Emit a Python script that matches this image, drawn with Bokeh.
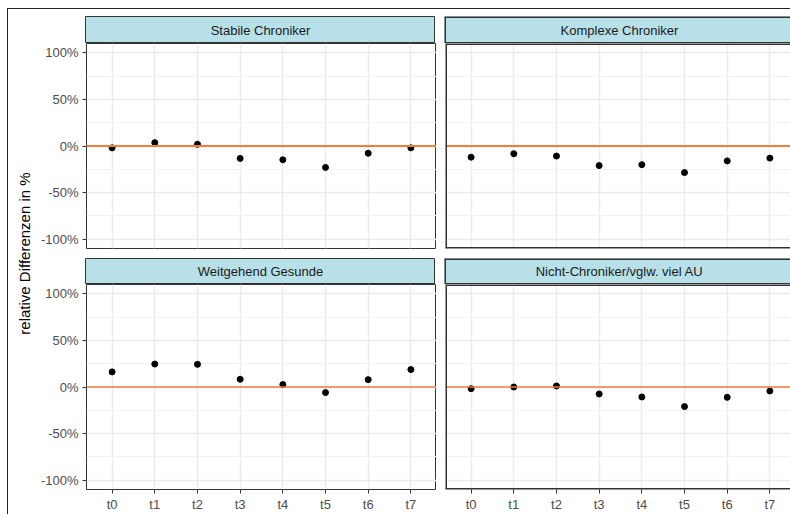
from bokeh.plotting import figure
from bokeh.layouts import row, column
from bokeh.models import Range1d, FixedTicker, Span, Label
from bokeh.embed import file_html
from bokeh.resources import INLINE

# ---- data ----
cats = ["t0", "t1", "t2", "t3", "t4", "t5", "t6", "t7"]
panel_titles = ["Stabile Chroniker", "Komplexe Chroniker",
                "Weitgehend Gesunde", "Nicht-Chroniker/vglw. viel AU"]
stabile = [-2.0, 3.6, 1.8, -13.3, -14.8, -23.0, -7.8, -2.0]
komplex = [-12.0, -8.3, -10.8, -21.0, -20.0, -28.5, -16.0, -13.0]
gesund = [16.2, 24.6, 24.3, 8.3, 2.6, -6.0, 7.9, 18.7]
nicht = [-1.8, 0.0, 1.1, -7.5, -10.7, -21.0, -11.1, -4.3]
y_ticks = [-100, -50, 0, 50, 100]
y_minor = [-75, -25, 25, 75]
y_labels = [f"{v}%" for v in y_ticks]
y_title = "relative Differenzen in %"

FONT = "Liberation Sans"
FULL_W = 350
xs = list(range(1, len(cats) + 1))
X0 = 0.4
XSPAN = (len(cats) + 0.6) - X0
Y0, Y1 = -110, 110
EDGE = "#333333"


def open_right_edge(fig, x0, x1, y0, y1, w_px, h_px):
    # frame cut off at the window edge: draw left/top/bottom borders only
    fig.outline_line_color = None
    hx = 0.5 * (x1 - x0) / w_px
    hy = 0.5 * (y1 - y0) / h_px
    fig.add_layout(Span(location=x0 + hx, dimension="height", line_color=EDGE, line_width=2))
    fig.add_layout(Span(location=y0 + hy, dimension="width", line_color=EDGE, line_width=2))
    fig.add_layout(Span(location=y1 - hy, dimension="width", line_color=EDGE, line_width=2))


def make_panel(values, frame_w, left_border, show_y, show_x, bottom_border, hline_w, cut):
    x_end = X0 + XSPAN * frame_w / FULL_W
    p = figure(frame_width=frame_w, frame_height=205,
               x_range=Range1d(X0, x_end), y_range=Range1d(Y0, Y1),
               x_axis_location="below" if show_x else None,
               y_axis_location="left" if show_y else None,
               min_border_left=left_border, min_border_right=0,
               min_border_top=0, min_border_bottom=bottom_border,
               toolbar_location=None, output_backend="svg", title=None)
    p.background_fill_color = "white"
    p.border_fill_color = "white"
    p.outline_line_color = EDGE
    p.outline_line_width = 1
    p.xgrid.ticker = FixedTicker(ticks=xs)
    p.xgrid.grid_line_color = "#EBEBEB"
    p.xgrid.grid_line_width = 1.5
    p.ygrid.ticker = FixedTicker(ticks=y_ticks, minor_ticks=y_minor)
    p.ygrid.grid_line_color = "#EBEBEB"
    p.ygrid.grid_line_width = 1.5
    p.ygrid.minor_grid_line_color = "#F2F2F2"
    p.ygrid.minor_grid_line_width = 1
    if show_y:
        ax = p.yaxis[0]
        ax.ticker = FixedTicker(ticks=y_ticks)
        ax.major_label_overrides = {v: l for v, l in zip(y_ticks, y_labels)}
        ax.axis_line_color = None
        ax.major_tick_line_color = EDGE
        ax.major_tick_out = 4
        ax.major_tick_in = 0
        ax.minor_tick_out = 0
        ax.minor_tick_in = 0
        ax.major_label_text_font = FONT
        ax.major_label_text_font_size = "13px"
        ax.major_label_text_color = "#4D4D4D"
        ax.major_label_standoff = 4
    if show_x:
        ax = p.xaxis[0]
        ax.ticker = FixedTicker(ticks=xs)
        ax.major_label_overrides = {x: c for x, c in zip(xs, cats)}
        ax.axis_line_color = None
        ax.major_tick_line_color = EDGE
        ax.major_tick_out = 4
        ax.major_tick_in = 0
        ax.minor_tick_out = 0
        ax.minor_tick_in = 0
        ax.major_label_text_font = FONT
        ax.major_label_text_font_size = "13px"
        ax.major_label_text_color = "#4D4D4D"
        ax.major_label_standoff = 3
    p.add_layout(Span(location=0, dimension="width", line_color="#F47C3C",
                      line_width=hline_w))
    p.scatter(x=xs, y=values, size=6, color="black")
    if cut:
        open_right_edge(p, X0, x_end, Y0, Y1, frame_w, 205)
    return p


def make_strip(title, frame_w, left_border, top_border, h, cut):
    x_end = frame_w / FULL_W
    s = figure(frame_width=frame_w, frame_height=h,
               x_range=Range1d(0, x_end), y_range=Range1d(0, 1),
               x_axis_location=None, y_axis_location=None,
               min_border_left=left_border, min_border_right=0,
               min_border_top=top_border, min_border_bottom=0,
               toolbar_location=None, output_backend="svg", title=None)
    s.grid.visible = False
    s.background_fill_color = "#B7E0E8"
    s.border_fill_color = "white"
    s.outline_line_color = EDGE
    s.outline_line_width = 1
    s.add_layout(Label(x=0.5, y=0.5, text=title, text_align="center",
                       text_baseline="middle", text_font_size="13px",
                       text_color="#1A1A1A", text_font=FONT))
    if cut:
        open_right_edge(s, 0, x_end, 0, 1, frame_w, h)
    return s


LEFT_B = 48
RIGHT_W = 346

s_tl = make_strip(panel_titles[0], FULL_W, LEFT_B, 7, 27, False)
s_tr = make_strip(panel_titles[1], RIGHT_W, 9, 7, 27, True)
p_tl = make_panel(stabile, FULL_W, LEFT_B, True, False, 10, 2, False)
p_tr = make_panel(komplex, RIGHT_W, 9, False, False, 10, 2, True)
s_bl = make_strip(panel_titles[2], FULL_W, LEFT_B, 0, 26, False)
s_br = make_strip(panel_titles[3], RIGHT_W, 9, 0, 26, True)
p_bl = make_panel(gesund, FULL_W, LEFT_B, True, True, 25, 1.3, False)
p_br = make_panel(nicht, RIGHT_W, 9, False, True, 25, 1.3, True)

lab = figure(frame_width=29, frame_height=505,
             x_range=Range1d(0, 29), y_range=Range1d(0, 505),
             x_axis_location=None, y_axis_location=None,
             min_border_left=0, min_border_right=0, min_border_top=0,
             min_border_bottom=0, toolbar_location=None,
             output_backend="svg", title=None)
lab.grid.visible = False
lab.outline_line_color = None
lab.background_fill_color = "white"
lab.border_fill_color = "white"
lab.add_layout(Label(x=16, y=261, text=y_title, angle=90, angle_units="deg",
                     text_align="center", text_baseline="middle",
                     text_font_size="15px", text_color="black", text_font=FONT))

grid = column(row(s_tl, s_tr), row(p_tl, p_tr), row(s_bl, s_br), row(p_bl, p_br))
layout = row(lab, grid, styles={"border-left": "1px solid #222222",
                                "border-top": "1px solid #222222",
                                "margin-left": "7px", "margin-top": "8px"})

open("out.html", "w").write(file_html(layout, INLINE))
